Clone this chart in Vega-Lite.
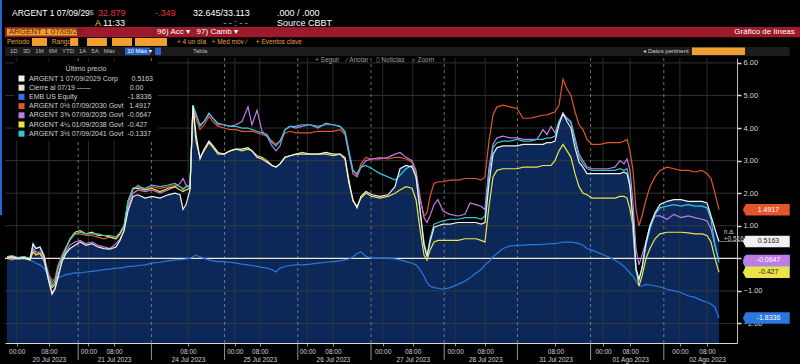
{
"$schema": "https://vega.github.io/schema/vega-lite/v6.json",
"width": 732, "height": 285,
"autosize": {"type": "none"},
"padding": {"left": 5, "top": 58, "right": 63, "bottom": 21},
"background": "#000000",
"config": {"view": {"stroke": null}, "font": "Liberation Sans", "text": {"font": "Liberation Sans"}, "axisY": {"labelOverlap": false}},
"datasets": {
"main": [
{"t":0.027,"o":0.05,"p":0.0,"c":0.05,"w":0.03,"y":0.0,"e":0.0},
{"t":0.096,"o":0.0,"p":-0.05,"c":0.08,"w":0.05,"y":0.02,"e":0.02},
{"t":0.178,"o":0.02,"p":0.0,"c":0.02,"w":0.0,"y":-0.02,"e":-0.02},
{"t":0.260,"o":0.05,"p":0.02,"c":0.05,"w":0.02,"y":0.0,"e":0.0},
{"t":0.342,"o":0.0,"p":-0.05,"c":0.0,"w":-0.03,"y":-0.05,"e":-0.05},
{"t":0.383,"o":0.25,"p":0.3,"c":0.4,"w":0.45,"y":0.2,"e":-0.1},
{"t":0.423,"o":0.15,"p":0.2,"c":0.3,"w":0.3,"y":0.1,"e":-0.15},
{"t":0.478,"o":0.2,"p":0.15,"c":0.35,"w":0.35,"y":0.15,"e":-0.2},
{"t":0.533,"o":0.05,"p":-0.1,"c":0.1,"w":0.05,"y":-0.05,"e":-0.3},
{"t":0.587,"o":-0.4,"p":-0.6,"c":-0.5,"w":-0.6,"y":-0.5,"e":-0.5},
{"t":0.642,"o":-0.75,"p":-1.05,"c":-0.85,"w":-1.1,"y":-0.9,"e":-0.65},
{"t":0.683,"o":-0.6,"p":-0.9,"c":-0.7,"w":-0.95,"y":-0.8,"e":-0.7},
{"t":0.724,"o":-0.2,"p":-0.5,"c":-0.3,"w":-0.6,"y":-0.3,"e":-0.6},
{"t":0.779,"o":0.1,"p":-0.1,"c":0.05,"w":-0.1,"y":0.0,"e":-0.55},
{"t":0.833,"o":0.35,"p":0.2,"c":0.3,"w":0.15,"y":0.3,"e":-0.5},
{"t":0.888,"o":0.55,"p":0.4,"c":0.6,"w":0.3,"y":0.6,"e":-0.48},
{"t":0.956,"o":0.75,"p":0.5,"c":0.75,"w":0.4,"y":0.8,"e":-0.45},
{"t":1.025,"o":0.75,"p":0.55,"c":0.8,"w":0.5,"y":0.85,"e":-0.45},
{"t":1.107,"o":0.7,"p":0.45,"c":0.75,"w":0.4,"y":0.75,"e":-0.42},
{"t":1.189,"o":0.7,"p":0.5,"c":0.75,"w":0.45,"y":0.8,"e":-0.4},
{"t":1.270,"o":0.65,"p":0.4,"c":0.75,"w":0.35,"y":0.7,"e":-0.38},
{"t":1.352,"o":0.6,"p":0.35,"c":0.7,"w":0.3,"y":0.7,"e":-0.35},
{"t":1.434,"o":0.65,"p":0.3,"c":0.7,"w":0.28,"y":0.65,"e":-0.33},
{"t":1.516,"o":0.6,"p":0.45,"c":0.65,"w":0.35,"y":0.6,"e":-0.3},
{"t":1.571,"o":0.75,"p":0.6,"c":0.8,"w":0.55,"y":0.75,"e":-0.3},
{"t":1.626,"o":0.95,"p":0.85,"c":1.0,"w":0.85,"y":1.0,"e":-0.28},
{"t":1.680,"o":1.65,"p":1.55,"c":1.75,"w":1.45,"y":1.75,"e":-0.25},
{"t":1.749,"o":2.1,"p":2.0,"c":2.15,"w":1.9,"y":2.15,"e":-0.25},
{"t":1.817,"o":2.25,"p":2.1,"c":2.2,"w":1.95,"y":2.15,"e":-0.22},
{"t":1.913,"o":2.1,"p":2.05,"c":2.15,"w":1.85,"y":2.1,"e":-0.2},
{"t":2.008,"o":2.2,"p":2.1,"c":2.25,"w":1.9,"y":2.15,"e":-0.15},
{"t":2.117,"o":2.15,"p":2.0,"c":2.2,"w":1.85,"y":2.05,"e":-0.12},
{"t":2.227,"o":2.2,"p":2.1,"c":2.25,"w":1.95,"y":2.15,"e":-0.08},
{"t":2.322,"o":2.25,"p":2.2,"c":2.3,"w":2.0,"y":2.2,"e":-0.05},
{"t":2.391,"o":2.2,"p":2.3,"c":2.2,"w":1.95,"y":2.1,"e":-0.04},
{"t":2.432,"o":2.15,"p":2.45,"c":2.1,"w":1.5,"y":2.05,"e":-0.03},
{"t":2.473,"o":2.2,"p":2.25,"c":2.2,"w":1.65,"y":2.1,"e":-0.02},
{"t":2.527,"o":2.2,"p":2.2,"c":2.2,"w":2.1,"y":2.15,"e":0.0},
{"t":2.568,"o":4.6,"p":4.65,"c":4.7,"w":4.7,"y":4.6,"e":0.05},
{"t":2.609,"o":4.3,"p":4.4,"c":4.45,"w":3.8,"y":3.6,"e":0.1},
{"t":2.664,"o":3.95,"p":4.1,"c":4.05,"w":3.05,"y":3.1,"e":0.05},
{"t":2.719,"o":4.1,"p":4.2,"c":4.2,"w":3.35,"y":3.3,"e":0.0},
{"t":2.787,"o":4.35,"p":4.45,"c":4.45,"w":3.6,"y":3.55,"e":-0.05},
{"t":2.842,"o":4.2,"p":4.3,"c":4.3,"w":3.45,"y":3.4,"e":-0.08},
{"t":2.910,"o":4.05,"p":4.1,"c":4.15,"w":3.25,"y":3.2,"e":-0.1},
{"t":2.992,"o":4.0,"p":4.1,"c":4.1,"w":3.2,"y":3.2,"e":-0.1},
{"t":3.074,"o":3.95,"p":4.05,"c":4.05,"w":3.3,"y":3.3,"e":-0.12},
{"t":3.156,"o":3.95,"p":4.1,"c":4.05,"w":3.35,"y":3.35,"e":-0.15},
{"t":3.238,"o":3.9,"p":4.2,"c":4.0,"w":3.35,"y":3.3,"e":-0.18},
{"t":3.320,"o":3.9,"p":4.65,"c":4.0,"w":3.4,"y":3.35,"e":-0.2},
{"t":3.374,"o":3.9,"p":4.1,"c":3.95,"w":3.3,"y":3.3,"e":-0.22},
{"t":3.443,"o":3.85,"p":4.55,"c":3.9,"w":3.1,"y":3.15,"e":-0.25},
{"t":3.511,"o":3.8,"p":3.9,"c":3.85,"w":3.05,"y":3.1,"e":-0.28},
{"t":3.579,"o":3.75,"p":3.75,"c":3.8,"w":2.95,"y":3.0,"e":-0.3},
{"t":3.648,"o":3.6,"p":3.45,"c":3.55,"w":2.85,"y":2.85,"e":-0.35},
{"t":3.702,"o":3.5,"p":3.3,"c":3.45,"w":2.8,"y":2.8,"e":-0.42},
{"t":3.757,"o":3.6,"p":3.45,"c":3.6,"w":2.9,"y":2.9,"e":-0.3},
{"t":3.825,"o":3.85,"p":3.95,"c":3.95,"w":3.1,"y":3.1,"e":-0.25},
{"t":3.893,"o":3.9,"p":4.05,"c":4.05,"w":3.15,"y":3.15,"e":-0.22},
{"t":3.975,"o":3.85,"p":4.0,"c":4.05,"w":3.2,"y":3.2,"e":-0.2},
{"t":4.057,"o":3.85,"p":4.05,"c":4.1,"w":3.2,"y":3.25,"e":-0.2},
{"t":4.167,"o":3.85,"p":4.1,"c":4.1,"w":3.2,"y":3.2,"e":-0.18},
{"t":4.276,"o":3.9,"p":4.0,"c":4.05,"w":3.2,"y":3.2,"e":-0.15},
{"t":4.385,"o":3.9,"p":4.15,"c":4.1,"w":3.25,"y":3.2,"e":-0.12},
{"t":4.481,"o":3.9,"p":4.1,"c":4.1,"w":3.2,"y":3.15,"e":-0.1},
{"t":4.577,"o":3.95,"p":4.05,"c":4.05,"w":3.2,"y":3.2,"e":-0.08},
{"t":4.645,"o":3.8,"p":3.85,"c":3.9,"w":3.05,"y":3.1,"e":-0.05},
{"t":4.699,"o":3.2,"p":3.2,"c":3.3,"w":2.3,"y":2.4,"e":-0.02},
{"t":4.754,"o":2.7,"p":2.6,"c":2.7,"w":1.8,"y":1.75,"e":0.05},
{"t":4.809,"o":2.55,"p":2.5,"c":2.6,"w":1.55,"y":1.6,"e":0.15},
{"t":4.863,"o":2.9,"p":2.8,"c":2.8,"w":1.9,"y":1.85,"e":0.2},
{"t":4.932,"o":3.1,"p":3.0,"c":2.85,"w":2.05,"y":2.0,"e":0.05},
{"t":5.014,"o":3.05,"p":3.05,"c":2.75,"w":1.95,"y":1.9,"e":0.0},
{"t":5.123,"o":3.1,"p":3.05,"c":2.6,"w":1.9,"y":1.85,"e":0.0},
{"t":5.232,"o":3.05,"p":3.1,"c":2.5,"w":1.95,"y":1.9,"e":0.0},
{"t":5.328,"o":3.1,"p":3.2,"c":2.4,"w":2.2,"y":2.0,"e":-0.02},
{"t":5.396,"o":3.1,"p":3.25,"c":2.55,"w":2.75,"y":2.1,"e":-0.05},
{"t":5.478,"o":3.05,"p":3.1,"c":2.75,"w":2.85,"y":2.2,"e":-0.1},
{"t":5.560,"o":2.95,"p":3.0,"c":2.85,"w":2.8,"y":2.15,"e":-0.15},
{"t":5.615,"o":2.6,"p":2.7,"c":2.5,"w":2.5,"y":1.8,"e":-0.2},
{"t":5.669,"o":1.8,"p":1.9,"c":1.5,"w":1.5,"y":0.9,"e":-0.35},
{"t":5.724,"o":1.3,"p":1.25,"c":0.5,"w":0.4,"y":0.1,"e":-0.55},
{"t":5.765,"o":1.4,"p":1.1,"c":0.1,"w":0.05,"y":-0.05,"e":-0.75},
{"t":5.806,"o":1.9,"p":1.3,"c":0.6,"w":0.5,"y":0.25,"e":-0.85},
{"t":5.861,"o":2.3,"p":1.65,"c":1.05,"w":0.95,"y":0.5,"e":-0.9},
{"t":5.915,"o":2.35,"p":1.8,"c":1.1,"w":1.0,"y":0.55,"e":-0.92},
{"t":5.984,"o":2.35,"p":1.45,"c":1.15,"w":1.05,"y":0.55,"e":-0.95},
{"t":6.079,"o":2.4,"p":1.35,"c":1.2,"w":1.05,"y":0.55,"e":-0.9},
{"t":6.189,"o":2.4,"p":1.3,"c":1.2,"w":1.1,"y":0.55,"e":-0.8},
{"t":6.284,"o":2.45,"p":1.35,"c":1.25,"w":1.1,"y":0.6,"e":-0.7},
{"t":6.352,"o":2.45,"p":1.7,"c":1.25,"w":1.1,"y":0.6,"e":-0.6},
{"t":6.434,"o":2.45,"p":1.65,"c":1.25,"w":1.1,"y":0.6,"e":-0.45},
{"t":6.503,"o":2.4,"p":1.6,"c":1.2,"w":1.05,"y":0.55,"e":-0.35},
{"t":6.557,"o":2.5,"p":1.5,"c":1.3,"w":1.1,"y":0.5,"e":-0.2},
{"t":6.612,"o":3.6,"p":2.8,"c":2.6,"w":2.3,"y":1.6,"e":-0.1},
{"t":6.667,"o":4.4,"p":3.5,"c":3.4,"w":3.2,"y":2.5,"e":0.05},
{"t":6.721,"o":4.65,"p":3.7,"c":3.55,"w":3.4,"y":2.7,"e":0.15},
{"t":6.803,"o":4.7,"p":3.75,"c":3.6,"w":3.45,"y":2.75,"e":0.3},
{"t":6.899,"o":4.65,"p":3.7,"c":3.6,"w":3.45,"y":2.75,"e":0.38},
{"t":6.995,"o":4.6,"p":3.7,"c":3.65,"w":3.45,"y":2.75,"e":0.4},
{"t":7.077,"o":4.3,"p":3.65,"c":3.6,"w":3.5,"y":2.8,"e":0.4},
{"t":7.172,"o":4.3,"p":3.65,"c":3.6,"w":3.5,"y":2.8,"e":0.42},
{"t":7.268,"o":4.35,"p":3.65,"c":3.65,"w":3.5,"y":2.8,"e":0.42},
{"t":7.350,"o":4.4,"p":3.95,"c":3.65,"w":3.5,"y":2.85,"e":0.43},
{"t":7.404,"o":4.4,"p":3.8,"c":3.7,"w":3.55,"y":2.85,"e":0.44},
{"t":7.459,"o":4.45,"p":4.05,"c":3.7,"w":3.55,"y":2.85,"e":0.45},
{"t":7.514,"o":4.5,"p":3.85,"c":3.75,"w":3.6,"y":3.0,"e":0.45},
{"t":7.568,"o":4.7,"p":4.2,"c":4.2,"w":4.1,"y":3.3,"e":0.47},
{"t":7.623,"o":5.5,"p":4.45,"c":4.4,"w":4.45,"y":3.5,"e":0.5},
{"t":7.678,"o":5.2,"p":4.3,"c":4.3,"w":4.2,"y":3.3,"e":0.5},
{"t":7.732,"o":5.0,"p":4.2,"c":4.15,"w":4.0,"y":3.1,"e":0.5},
{"t":7.787,"o":4.5,"p":3.7,"c":3.6,"w":3.4,"y":2.6,"e":0.48},
{"t":7.842,"o":4.1,"p":3.2,"c":3.1,"w":2.95,"y":2.2,"e":0.45},
{"t":7.896,"o":3.95,"p":3.0,"c":2.9,"w":2.8,"y":2.0,"e":0.4},
{"t":7.951,"o":3.65,"p":2.8,"c":2.75,"w":2.6,"y":1.95,"e":0.3},
{"t":8.019,"o":3.5,"p":2.75,"c":2.7,"w":2.6,"y":1.85,"e":0.25},
{"t":8.128,"o":3.5,"p":2.75,"c":2.7,"w":2.6,"y":1.85,"e":0.15},
{"t":8.238,"o":3.55,"p":2.75,"c":2.7,"w":2.6,"y":1.85,"e":0.05},
{"t":8.333,"o":3.55,"p":2.8,"c":2.7,"w":2.6,"y":1.85,"e":-0.05},
{"t":8.402,"o":3.55,"p":3.0,"c":2.75,"w":2.6,"y":1.9,"e":-0.15},
{"t":8.456,"o":3.6,"p":2.9,"c":2.7,"w":2.65,"y":1.9,"e":-0.25},
{"t":8.497,"o":3.65,"p":3.05,"c":2.75,"w":2.6,"y":1.85,"e":-0.35},
{"t":8.538,"o":3.3,"p":2.7,"c":2.3,"w":2.2,"y":1.5,"e":-0.45},
{"t":8.579,"o":2.7,"p":1.7,"c":0.8,"w":1.2,"y":1.0,"e":-0.55},
{"t":8.620,"o":1.5,"p":0.3,"c":-0.4,"w":-0.3,"y":-0.3,"e":-0.7},
{"t":8.661,"o":1.0,"p":-0.2,"c":-0.65,"w":-0.65,"y":-0.85,"e":-0.85},
{"t":8.702,"o":1.3,"p":0.1,"c":-0.3,"w":-0.3,"y":-0.55,"e":-0.85},
{"t":8.757,"o":1.8,"p":0.5,"c":0.4,"w":0.5,"y":0.0,"e":-0.8},
{"t":8.811,"o":2.2,"p":1.0,"c":0.9,"w":1.0,"y":0.3,"e":-0.82},
{"t":8.880,"o":2.5,"p":1.3,"c":1.35,"w":1.4,"y":0.6,"e":-0.85},
{"t":8.948,"o":2.7,"p":1.3,"c":1.55,"w":1.65,"y":0.75,"e":-0.88},
{"t":9.044,"o":2.8,"p":1.2,"c":1.6,"w":1.75,"y":0.8,"e":-0.95},
{"t":9.139,"o":2.75,"p":1.35,"c":1.65,"w":1.8,"y":0.8,"e":-1.0},
{"t":9.235,"o":2.7,"p":1.25,"c":1.6,"w":1.8,"y":0.8,"e":-1.05},
{"t":9.331,"o":2.7,"p":1.3,"c":1.65,"w":1.75,"y":0.78,"e":-1.15},
{"t":9.426,"o":2.65,"p":1.25,"c":1.6,"w":1.75,"y":0.75,"e":-1.2},
{"t":9.522,"o":2.7,"p":1.2,"c":1.6,"w":1.75,"y":0.75,"e":-1.3},
{"t":9.590,"o":2.6,"p":1.15,"c":1.55,"w":1.7,"y":0.7,"e":-1.35},
{"t":9.645,"o":2.45,"p":0.9,"c":1.2,"w":1.3,"y":0.5,"e":-1.4},
{"t":9.699,"o":2.0,"p":0.4,"c":0.4,"w":0.9,"y":0.0,"e":-1.5},
{"t":9.754,"o":1.4917,"p":-0.0647,"c":-0.1337,"w":0.5163,"y":-0.427,"e":-1.8336}
],
"hg": [{"g":-2},{"g":-1},{"g":1},{"g":2},{"g":3},{"g":4},{"g":5},{"g":6}],
"vt": [{"t":0.16},{"t":0.6},{"t":1.14},{"t":1.49},{"t":2.5},{"t":3.14},{"t":3.48},{"t":4.13},{"t":4.48},{"t":5.16},{"t":5.57},{"t":6.15},{"t":6.56},{"t":7.52},{"t":8.17},{"t":8.54},{"t":9.22},{"t":9.59}],
"db": [{"t":1},{"t":2},{"t":3},{"t":4},{"t":5},{"t":6},{"t":7},{"t":8},{"t":9}],
"badges": [
{"k":"o","v":1.4917,"lab":"1.4917"},
{"k":"w","v":0.5163,"lab":"0.5163"},
{"k":"c","v":-0.1337,"lab":"-0.1337"},
{"k":"p","v":-0.0647,"lab":"-0.0647"},
{"k":"y","v":-0.427,"lab":"-0.427"},
{"k":"e","v":-1.8336,"lab":"-1.8336"}
]
},
"layer": [
{"data":{"name":"main"},"mark":{"type":"area","color":"#0c2858","opacity":1},
 "encoding":{
  "x":{"field":"t","type":"quantitative","title":null,"scale":{"domain":[0,10],"nice":false,"zero":false},
   "axis":{"title":null,"orient":"bottom","grid":false,"values":[0.16,0.6,1.14,1.49,2.5,3.14,3.48,4.13,4.48,5.16,5.57,6.15,6.56,7.52,8.17,8.54,9.22,9.59],"tickCount":30,
    "labelExpr":"(datum.value - floor(datum.value)) > 0.35 ? ['08:00', ['20 Jul 2023','21 Jul 2023','24 Jul 2023','25 Jul 2023','26 Jul 2023','27 Jul 2023','28 Jul 2023','31 Jul 2023','01 Ago 2023','02 Ago 2023'][floor(datum.value)]] : '00:00'",
    "labelColor":"#d0d0d0","labelFontSize":6.5,"labelLineHeight":8.5,"labelPadding":2,"labelOverlap":false,"labelFlush":false,
    "tickColor":"#909090","tickSize":3,"domainColor":"#d8d8d8","domainWidth":1}},
  "y":{"field":"w","type":"quantitative","title":null,"scale":{"domain":[-2.6,6.15],"nice":false,"zero":false},
   "axis":{"title":null,"orient":"right","grid":false,"values":[-2,-1,0,1,2,3,4,5,6],"tickCount":12,"format":".2f","labelOverlap":false,"labelFlush":false,
    "labelColor":"#d8d8d8","labelFontSize":7.5,"labelPadding":2,"tickColor":"#d8d8d8","tickSize":4,"tickWidth":1.5,
    "domainColor":"#bdbdbd","domainWidth":1}},
  "y2":{"datum":-2.6}}},
{"data":{"name":"hg"},"mark":{"type":"rule","color":"#3d3d3d","strokeWidth":0.8},
 "encoding":{"y":{"field":"g","type":"quantitative","title":null,"axis":{"orient":"right"}}}},
{"data":{"name":"vt"},"mark":{"type":"rule","color":"#363636","strokeWidth":0.8},
 "encoding":{"x":{"field":"t","type":"quantitative","title":null}}},
{"data":{"name":"db"},"mark":{"type":"rule","color":"#8c8c8c","strokeWidth":0.8,"strokeDash":[3,3]},
 "encoding":{"x":{"field":"t","type":"quantitative","title":null}}},
{"data":{"name":"db"},"mark":{"type":"rule","color":"#bbbbbb","strokeWidth":0.8},
 "encoding":{"x":{"field":"t","type":"quantitative","title":null},"y":{"datum":-2.6,"type":"quantitative","axis":{"orient":"right"}},"y2":{"datum":-3.12}}},
{"data":{"values":[{}]},"mark":{"type":"rule","color":"#ece8d6","strokeWidth":1.3},
 "encoding":{"y":{"datum":0,"type":"quantitative","axis":{"orient":"right"}}}},
{"data":{"name":"main"},"transform":[{"fold":["e","o","p","y","c","w"],"as":["k","v"]}],
 "mark":{"type":"line","strokeWidth":1.2},
 "encoding":{
  "x":{"field":"t","type":"quantitative","title":null},
  "y":{"field":"v","type":"quantitative","title":null,"axis":{"orient":"right"}},
  "color":{"field":"k","type":"nominal",
   "scale":{"domain":["w","z","e","o","p","y","c"],"range":["#f0f0f0","#ece6cc","#2878e0","#e2562c","#c07ce6","#ece34a","#34c6d8"]},
   "legend":{"title":"Último precio","orient":"none","legendX":9,"legendY":3,"fillColor":"#000000","padding":4,
    "titleFontSize":7,"titleFontWeight":"normal","titleColor":"#cccccc","titleAnchor":"middle","titlePadding":3,
    "labelFontSize":7,"labelColor":"#d0d0d0","labelLimit":400,"labelOffset":4,
    "symbolType":"square","symbolSize":36,"symbolStrokeWidth":0,"symbolOpacity":1,"rowPadding":1.2,
    "labelExpr":"datum.label==='w' ? 'ARGENT 1 07/09/2029 Corp\u00a0\u00a0\u00a0\u00a0\u00a0\u00a0 0.5163' : datum.label==='z' ? 'Cierre al 07/19 ——\u00a0\u00a0\u00a0\u00a0\u00a0\u00a0\u00a0\u00a0\u00a0\u00a0\u00a0\u00a0\u00a0\u00a0\u00a0\u00a0\u00a0\u00a0\u00a0 0.00' : datum.label==='e' ? 'EMB US Equity\u00a0\u00a0\u00a0\u00a0\u00a0\u00a0\u00a0\u00a0\u00a0\u00a0\u00a0\u00a0\u00a0\u00a0\u00a0\u00a0\u00a0\u00a0\u00a0\u00a0\u00a0\u00a0\u00a0\u00a0\u00a0 -1.8336' : datum.label==='o' ? 'ARGENT 0½ 07/09/2030 Govt\u00a0\u00a0 1.4917' : datum.label==='p' ? 'ARGENT 3⅝ 07/09/2035 Govt\u00a0 -0.0647' : datum.label==='y' ? 'ARGENT 4¼ 01/09/2038 Govt\u00a0 -0.427' : 'ARGENT 3½ 07/09/2041 Govt\u00a0 -0.1337'",
    "encode":{"symbols":{"update":{"fill":{"scale":"color","field":"value"},"opacity":{"value":1}}}}}}}},
{"data":{"values":[{}]},"mark":{"type":"rule","color":"#8a8a8a","strokeWidth":0.8},
 "encoding":{"x":{"datum":9.75,"type":"quantitative"},"x2":{"datum":10.15},"y":{"datum":0.5163,"type":"quantitative","axis":{"orient":"right"}}}},
{"data":{"values":[{}]},"mark":{"type":"text","align":"left","baseline":"middle","fontSize":6.5,"lineHeight":7,"color":"#cccccc"},
 "encoding":{"x":{"datum":9.82,"type":"quantitative"},"y":{"datum":0.82,"type":"quantitative","axis":{"orient":"right"}},"text":{"value":["n.a.","+0.5163"]}}},
{"data":{"name":"badges"},"mark":{"type":"point","shape":"M-1.13,0L-1,-0.26L1,-0.26L1,0.26L-1,0.26Z","filled":true,"opacity":1,"size":1936},
 "encoding":{"x":{"datum":10.42,"type":"quantitative"},"y":{"field":"v","type":"quantitative","title":null,"axis":{"orient":"right"}},"color":{"field":"k","type":"nominal"}}},
{"data":{"name":"badges"},"transform":[{"filter":"datum.k !== 'c'"}],"mark":{"type":"text","fontSize":7,"align":"center","baseline":"middle"},
 "encoding":{"x":{"datum":10.43,"type":"quantitative"},"y":{"field":"v","type":"quantitative","title":null,"axis":{"orient":"right"}},"text":{"field":"lab"},
  "color":{"condition":{"test":"datum.k==='w'||datum.k==='y'","value":"#222222"},"value":"#ffffff"}}},
{"data":{"values":[{}]},"mark":{"type":"rect","color":"#1f6fd8"},
 "encoding":{"x":{"datum":-0.068,"type":"quantitative"},"x2":{"datum":-0.042},"y":{"datum":7.93,"type":"quantitative","axis":{"orient":"right"}},"y2":{"datum":1.33}}},
{"data":{"values":[{}]},"mark":{"type":"text","align":"left","baseline":"middle","fontSize":8.5,"color":"#ffffff"},
 "encoding":{"x":{"datum":0.096,"type":"quantitative"},"y":{"datum":7.53,"type":"quantitative","axis":{"orient":"right"}},"text":{"value":"ARGENT 1 07/09/29"}}},
{"data":{"values":[{}]},"mark":{"type":"text","align":"left","baseline":"middle","fontSize":8,"color":"#aaaaaa"},
 "encoding":{"x":{"datum":1.15,"type":"quantitative"},"y":{"datum":7.53,"type":"quantitative","axis":{"orient":"right"}},"text":{"value":"$"}}},
{"data":{"values":[{}]},"mark":{"type":"text","align":"left","baseline":"middle","fontSize":9,"color":"#e8333a"},
 "encoding":{"x":{"datum":1.27,"type":"quantitative"},"y":{"datum":7.53,"type":"quantitative","axis":{"orient":"right"}},"text":{"value":"32.879"}}},
{"data":{"values":[{}]},"mark":{"type":"text","align":"left","baseline":"middle","fontSize":9,"color":"#e8333a"},
 "encoding":{"x":{"datum":2.049,"type":"quantitative"},"y":{"datum":7.53,"type":"quantitative","axis":{"orient":"right"}},"text":{"value":"-.349"}}},
{"data":{"values":[{}]},"mark":{"type":"text","align":"left","baseline":"middle","fontSize":9,"color":"#ffffff"},
 "encoding":{"x":{"datum":2.568,"type":"quantitative"},"y":{"datum":7.53,"type":"quantitative","axis":{"orient":"right"}},"text":{"value":"32.645/33.113"}}},
{"data":{"values":[{}]},"mark":{"type":"text","align":"left","baseline":"middle","fontSize":9,"color":"#ffffff"},
 "encoding":{"x":{"datum":3.716,"type":"quantitative"},"y":{"datum":7.53,"type":"quantitative","axis":{"orient":"right"}},"text":{"value":".000 / .000"}}},
{"data":{"values":[{}]},"mark":{"type":"text","align":"left","baseline":"middle","fontSize":9,"color":"#f0c040"},
 "encoding":{"x":{"datum":1.23,"type":"quantitative"},"y":{"datum":7.22,"type":"quantitative","axis":{"orient":"right"}},"text":{"value":"A"}}},
{"data":{"values":[{}]},"mark":{"type":"text","align":"left","baseline":"middle","fontSize":9,"color":"#ffffff"},
 "encoding":{"x":{"datum":1.34,"type":"quantitative"},"y":{"datum":7.22,"type":"quantitative","axis":{"orient":"right"}},"text":{"value":"11:33"}}},
{"data":{"values":[{}]},"mark":{"type":"text","align":"left","baseline":"middle","fontSize":9,"color":"#bbbbbb"},
 "encoding":{"x":{"datum":2.98,"type":"quantitative"},"y":{"datum":7.22,"type":"quantitative","axis":{"orient":"right"}},"text":{"value":"- - : - -"}}},
{"data":{"values":[{}]},"mark":{"type":"text","align":"left","baseline":"middle","fontSize":9,"color":"#ffffff"},
 "encoding":{"x":{"datum":3.716,"type":"quantitative"},"y":{"datum":7.22,"type":"quantitative","axis":{"orient":"right"}},"text":{"value":"Source CBBT"}}},
{"data":{"values":[{}]},"mark":{"type":"rect","color":"#9c1a2c"},
 "encoding":{"x":{"datum":0,"type":"quantitative"},"x2":{"datum":10.86},"y":{"datum":7.10,"type":"quantitative","axis":{"orient":"right"}},"y2":{"datum":6.79}}},
{"data":{"values":[{}]},"mark":{"type":"rect","color":"#f0a030"},
 "encoding":{"x":{"datum":0.027,"type":"quantitative"},"x2":{"datum":0.984},"y":{"datum":7.05,"type":"quantitative","axis":{"orient":"right"}},"y2":{"datum":6.84}}},
{"data":{"values":[{}]},"mark":{"type":"text","align":"left","baseline":"middle","fontSize":8,"color":"#4a2a00"},
 "encoding":{"x":{"datum":0.05,"type":"quantitative"},"y":{"datum":6.95,"type":"quantitative","axis":{"orient":"right"}},"text":{"value":"ARGENT 1 07/09/29"}}},
{"data":{"values":[{}]},"mark":{"type":"text","align":"left","baseline":"middle","fontSize":8,"color":"#ffffff"},
 "encoding":{"x":{"datum":2.077,"type":"quantitative"},"y":{"datum":6.95,"type":"quantitative","axis":{"orient":"right"}},"text":{"value":"96) Acc ▾\u00a0\u00a0\u00a097) Camb ▾"}}},
{"data":{"values":[{}]},"mark":{"type":"text","align":"right","baseline":"middle","fontSize":8,"color":"#ffffff"},
 "encoding":{"x":{"datum":10.79,"type":"quantitative"},"y":{"datum":6.95,"type":"quantitative","axis":{"orient":"right"}},"text":{"value":"Gráfico de líneas"}}},
{"data":{"values":[{}]},"mark":{"type":"text","align":"left","baseline":"middle","fontSize":6.5,"color":"#e8a040"},
 "encoding":{"x":{"datum":0.027,"type":"quantitative"},"y":{"datum":6.64,"type":"quantitative","axis":{"orient":"right"}},"text":{"value":"Periodo"}}},
{"data":{"values":[{}]},"mark":{"type":"rect","color":"#f0a030"},
 "encoding":{"x":{"datum":0.369,"type":"quantitative"},"x2":{"datum":0.574},"y":{"datum":6.765,"type":"quantitative","axis":{"orient":"right"}},"y2":{"datum":6.52}}},
{"data":{"values":[{}]},"mark":{"type":"text","align":"left","baseline":"middle","fontSize":6.5,"color":"#e8a040"},
 "encoding":{"x":{"datum":0.64,"type":"quantitative"},"y":{"datum":6.64,"type":"quantitative","axis":{"orient":"right"}},"text":{"value":"Rango"}}},
{"data":{"values":[{}]},"mark":{"type":"rect","color":"#f0a030"},
 "encoding":{"x":{"datum":0.89,"type":"quantitative"},"x2":{"datum":1.0},"y":{"datum":6.765,"type":"quantitative","axis":{"orient":"right"}},"y2":{"datum":6.52}}},
{"data":{"values":[{}]},"mark":{"type":"rect","color":"#f0a030"},
 "encoding":{"x":{"datum":1.12,"type":"quantitative"},"x2":{"datum":1.393},"y":{"datum":6.765,"type":"quantitative","axis":{"orient":"right"}},"y2":{"datum":6.52}}},
{"data":{"values":[{}]},"mark":{"type":"rect","color":"#f0a030"},
 "encoding":{"x":{"datum":1.462,"type":"quantitative"},"x2":{"datum":1.735},"y":{"datum":6.765,"type":"quantitative","axis":{"orient":"right"}},"y2":{"datum":6.52}}},
{"data":{"values":[{}]},"mark":{"type":"rect","color":"#f0a030"},
 "encoding":{"x":{"datum":1.776,"type":"quantitative"},"x2":{"datum":2.213},"y":{"datum":6.765,"type":"quantitative","axis":{"orient":"right"}},"y2":{"datum":6.52}}},
{"data":{"values":[{}]},"mark":{"type":"text","align":"left","baseline":"middle","fontSize":6.5,"color":"#e8a040"},
 "encoding":{"x":{"datum":2.35,"type":"quantitative"},"y":{"datum":6.64,"type":"quantitative","axis":{"orient":"right"}},"text":{"value":"+ 4 un día\u00a0\u00a0\u00a0+ Med móv ∕\u00a0\u00a0\u00a0\u00a0\u00a0+ Eventos clave"}}},
{"data":{"values":[{}]},"mark":{"type":"rect","color":"#1c1c1c"},
 "encoding":{"x":{"datum":0,"type":"quantitative"},"x2":{"datum":10.72},"y":{"datum":6.49,"type":"quantitative","axis":{"orient":"right"}},"y2":{"datum":6.21}}},
{"data":{"values":[{}]},"mark":{"type":"text","align":"left","baseline":"middle","fontSize":6,"color":"#bbbbbb"},
 "encoding":{"x":{"datum":0.068,"type":"quantitative"},"y":{"datum":6.35,"type":"quantitative","axis":{"orient":"right"}},"text":{"value":"1D\u00a0\u00a0\u00a03D\u00a0\u00a0\u00a01M\u00a0\u00a0\u00a06M\u00a0\u00a0\u00a0YTD\u00a0\u00a0\u00a01A\u00a0\u00a0\u00a05A\u00a0\u00a0\u00a0Máx"}}},
{"data":{"values":[{}]},"mark":{"type":"rect","color":"#2a62c8"},
 "encoding":{"x":{"datum":1.639,"type":"quantitative"},"x2":{"datum":1.981},"y":{"datum":6.47,"type":"quantitative","axis":{"orient":"right"}},"y2":{"datum":6.24}}},
{"data":{"values":[{}]},"mark":{"type":"text","align":"left","baseline":"middle","fontSize":6,"color":"#ffffff"},
 "encoding":{"x":{"datum":1.67,"type":"quantitative"},"y":{"datum":6.35,"type":"quantitative","axis":{"orient":"right"}},"text":{"value":"10 Más ▾"}}},
{"data":{"values":[{}]},"mark":{"type":"rect","color":"#2a62c8"},
 "encoding":{"x":{"datum":2.049,"type":"quantitative"},"x2":{"datum":2.131},"y":{"datum":6.47,"type":"quantitative","axis":{"orient":"right"}},"y2":{"datum":6.24}}},
{"data":{"values":[{}]},"mark":{"type":"text","align":"left","baseline":"middle","fontSize":6,"color":"#bbbbbb"},
 "encoding":{"x":{"datum":2.568,"type":"quantitative"},"y":{"datum":6.35,"type":"quantitative","axis":{"orient":"right"}},"text":{"value":"Tabla"}}},
{"data":{"values":[{}]},"mark":{"type":"text","align":"left","baseline":"middle","fontSize":6,"color":"#cccccc"},
 "encoding":{"x":{"datum":8.72,"type":"quantitative"},"y":{"datum":6.35,"type":"quantitative","axis":{"orient":"right"}},"text":{"value":"◂ Datos pertinent"}}},
{"data":{"values":[{}]},"mark":{"type":"rect","color":"#f0a030"},
 "encoding":{"x":{"datum":9.385,"type":"quantitative"},"x2":{"datum":10.109},"y":{"datum":6.47,"type":"quantitative","axis":{"orient":"right"}},"y2":{"datum":6.24}}},
{"data":{"values":[{}]},"mark":{"type":"text","align":"left","baseline":"middle","fontSize":6.5,"color":"#9a9a9a"},
 "encoding":{"x":{"datum":4.235,"type":"quantitative"},"y":{"datum":6.09,"type":"quantitative","axis":{"orient":"right"}},"text":{"value":"+ Seguir\u00a0\u00a0\u00a0\u00a0∕ Anotar\u00a0\u00a0\u00a0\u00a0▯ Noticias\u00a0\u00a0\u00a0\u00a0⌕ Zoom"}}}
]
}
